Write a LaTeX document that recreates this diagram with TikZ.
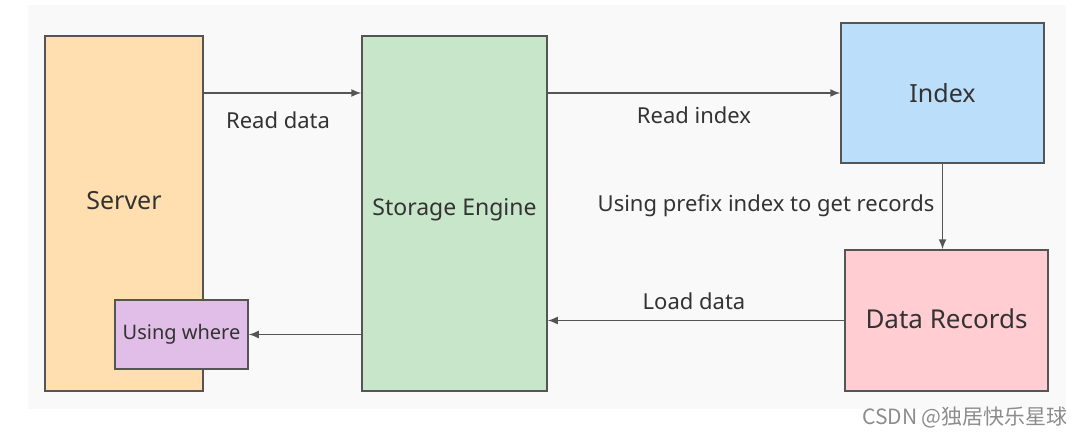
\documentclass[tikz,border=0pt]{standalone}
\usepackage{fontspec}
\setmainfont{Noto Sans}
\newfontfamily\cjk{Noto Sans CJK SC}
\usetikzlibrary{arrows.meta, positioning}

\definecolor{linegray}{HTML}{555555}
\definecolor{txtgray}{HTML}{333333}
\definecolor{bggray}{HTML}{F9F9F9}
\definecolor{serverfill}{HTML}{FFDFB0}
\definecolor{enginefill}{HTML}{C8E6C9}
\definecolor{indexfill}{HTML}{BBDEFB}
\definecolor{recordfill}{HTML}{FFCDD2}
\definecolor{wherefill}{HTML}{E1BEE7}

\begin{document}
\begin{tikzpicture}[
    x=0.5pt, y=-0.5pt,
    every node/.style={text=txtgray},
    box/.style={draw=linegray, line width=0.75pt, align=center, inner sep=0pt},
    lbl/.style={font=\fontsize{11}{13}\selectfont, inner sep=0pt},
    arrow/.style={draw=linegray, line width=0.75pt, -{Latex[length=5pt, width=4pt]}}
]

% Background
\useasboundingbox (0,0) rectangle (1090,438);
\fill[bggray] (28,5) rectangle (1066,409);

% Nodes
\node[box, fill=serverfill, minimum width=79pt, minimum height=177.5pt,
      label={[font=\fontsize{12.5}{14}\selectfont, text=txtgray, yshift=6.5pt]center:Server}]
      (server) at (124,213.5) {};
\node[box, fill=enginefill, minimum width=92.5pt, minimum height=177.5pt,
      font=\fontsize{11.5}{13}\selectfont,
      label={[font=\fontsize{11.5}{13}\selectfont, text=txtgray, yshift=2pt]center:Storage Engine}]
      (engine) at (454.5,213.5) {};
\node[box, fill=indexfill, minimum width=101.5pt, minimum height=70pt,
      font=\fontsize{12.5}{14}\selectfont] (index) at (942.5,93) {Index};
\node[box, fill=recordfill, minimum width=101.5pt, minimum height=70.5pt,
      label={[font=\fontsize{13}{15}\selectfont, text=txtgray, yshift=1pt]center:Data Records}]
      (records) at (946.5,320.5) {};
\node[box, fill=wherefill, minimum width=66.5pt, minimum height=34.5pt,
      font=\fontsize{10}{12}\selectfont] (where) at (181.5,334.5) {Using where};

% Edges
\draw[arrow] (server.east |- index.west) -- (engine.west |- index.west);
\draw[arrow] (engine.east |- index.west) -- (index.west);
\draw[arrow] (index.south) -- (index.south |- records.north);
\draw[arrow] (records.west) -- (engine.east |- records.west);
\draw[arrow] (engine.west |- where.east) -- (where.east);

% Edge labels
\node[lbl] (readdata) at (278,120) {Read data};
\node[lbl] (readindex) at (694,115) {Read index};
\node[lbl] (prefix) at (766,206) {Using prefix index to get records};
\node[lbl] (loaddata) at (694,301) {Load data};

% Watermark
\node[font=\cjk\fontsize{10.5}{12}\selectfont, text=black!45, inner sep=0pt] (mark) at (965,417) {CSDN @独居快乐星球};

\end{tikzpicture}
\end{document}
